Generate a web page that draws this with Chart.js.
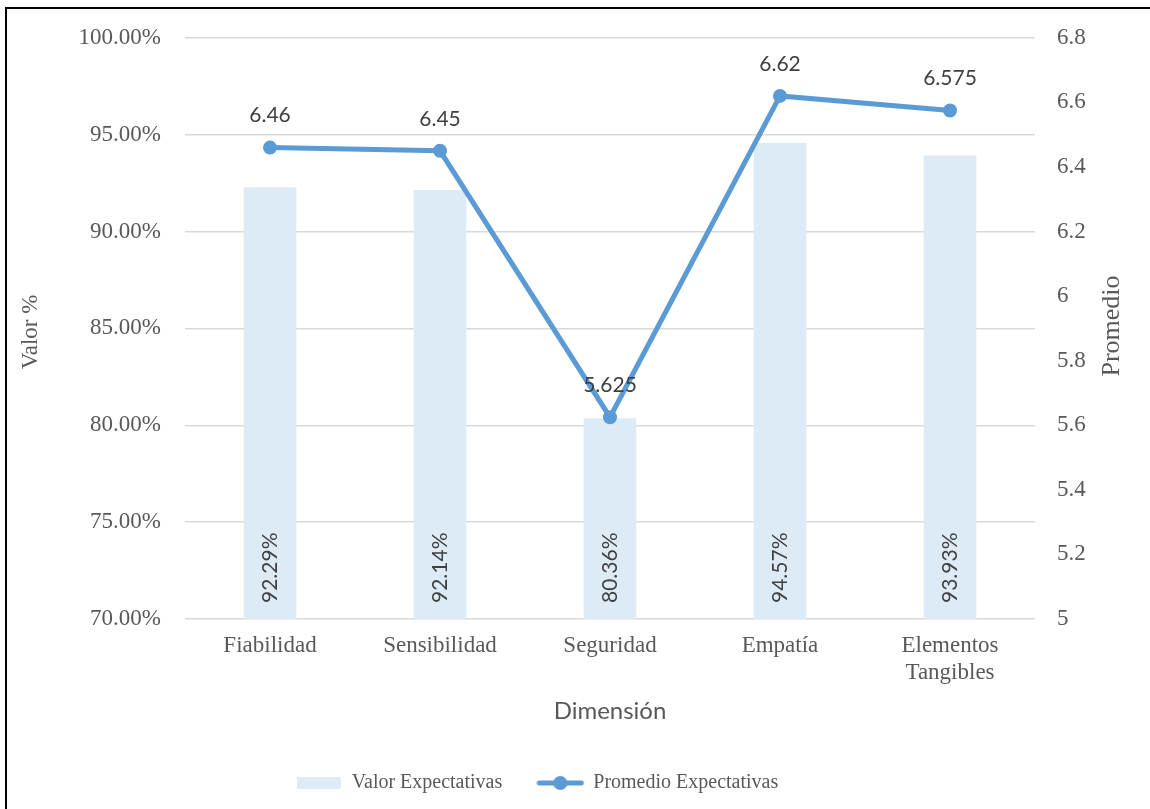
<!DOCTYPE html>
<html>
<head>
<meta charset="utf-8">
<script src="https://cdn.jsdelivr.net/npm/chart.js@4/dist/chart.umd.min.js"></script>
<style>
  html, body { margin: 0; padding: 0; background: #fff; }
  #wrap { position: relative; width: 1150px; height: 809px; }
</style>
</head>
<body>
<div id="wrap"><canvas id="chart" width="1150" height="809"></canvas></div>
<script>
// datos
const dimensiones = ['Fiabilidad', 'Sensibilidad', 'Seguridad', 'Empatía', ['Elementos', 'Tangibles']];
const valorExpectativas = [92.29, 92.14, 80.36, 94.57, 93.93];
const promedioExpectativas = [6.46, 6.45, 5.625, 6.62, 6.575];
const valorEje = [70, 100, 5];      // min, max, paso
const promedioEje = [5, 6.8, 0.2];  // min, max, paso

const azulBarra = '#DDEBF7';
const azulLinea = '#5B9BD5';
const gris = '#595959';
const serif = '"Liberation Serif", "Times New Roman", serif';
const sans = 'Lato, "Open Sans", sans-serif';

// iconos de la leyenda
const iconoBarra = document.createElement('canvas');
iconoBarra.width = 44; iconoBarra.height = 12;
(() => {
    const c = iconoBarra.getContext('2d');
    c.fillStyle = azulBarra;
    c.fillRect(0, 0, 44, 12);
})();

const iconoLinea = document.createElement('canvas');
iconoLinea.width = 48; iconoLinea.height = 16;
(() => {
    const c = iconoLinea.getContext('2d');
    c.strokeStyle = azulLinea;
    c.lineWidth = 5;
    c.lineCap = 'round';
    c.beginPath(); c.moveTo(3, 8); c.lineTo(45, 8); c.stroke();
    c.fillStyle = azulLinea;
    c.beginPath(); c.arc(24, 8, 7, 0, Math.PI * 2); c.fill();
})();

const etiquetas = {
    id: 'etiquetas',
    afterLayout(chart) {
        // la leyenda va centrada algo a la izquierda del centro del lienzo
        const lg = chart.legend;
        lg.right = 1064;
        lg.width = lg.right - lg.left;
    },
    afterDatasetsDraw(chart) {
        const ctx = chart.ctx;
        const area = chart.chartArea;
        ctx.save();
        ctx.fillStyle = '#404040';
        ctx.font = '21px ' + sans;

        chart.getDatasetMeta(1).data.forEach((bar, i) => {
            ctx.save();
            ctx.translate(bar.x, area.bottom - 16);
            ctx.rotate(-Math.PI / 2);
            ctx.textAlign = 'left';
            ctx.textBaseline = 'middle';
            ctx.fillText(valorExpectativas[i].toFixed(2) + '%', 0, 0);
            ctx.restore();
        });

        chart.getDatasetMeta(0).data.forEach((pt, i) => {
            ctx.textAlign = 'center';
            ctx.textBaseline = 'middle';
            ctx.fillText(String(promedioExpectativas[i]), pt.x, pt.y - 32);
        });
        ctx.restore();
    },
    afterDraw(chart) {
        const ctx = chart.ctx;
        ctx.save();
        ctx.fillStyle = gris;
        ctx.textAlign = 'center';
        ctx.textBaseline = 'middle';

        ctx.font = '23px ' + serif;
        ctx.save();
        ctx.translate(31, 332);
        ctx.rotate(-Math.PI / 2);
        ctx.fillText('Valor %', 0, 0);
        ctx.restore();

        ctx.font = '26px ' + serif;
        ctx.save();
        ctx.translate(1112, 326);
        ctx.rotate(-Math.PI / 2);
        ctx.fillText('Promedio', 0, 0);
        ctx.restore();

        ctx.font = '24px ' + sans;
        ctx.fillText('Dimensión', 610, 711);

        // marco
        ctx.fillStyle = '#000';
        ctx.fillRect(5, 7, 2, 802);
        ctx.fillRect(5, 7, 1145, 2);
        ctx.restore();
    }
};

const chart = new Chart(document.getElementById('chart').getContext('2d'), {
    type: 'bar',
    data: {
        labels: dimensiones,
        datasets: [{
            type: 'line',
            label: 'Promedio Expectativas',
            data: promedioExpectativas,
            yAxisID: 'y1',
            borderColor: azulLinea,
            backgroundColor: azulLinea,
            borderWidth: 5,
            pointRadius: 7,
            pointBackgroundColor: azulLinea,
            pointBorderWidth: 0,
            tension: 0,
            order: 0
        }, {
            type: 'bar',
            label: 'Valor Expectativas',
            data: valorExpectativas,
            yAxisID: 'y',
            backgroundColor: azulBarra,
            barPercentage: 0.31,
            categoryPercentage: 1,
            order: 1
        }]
    },
    options: {
        responsive: false,
        animation: false,
        layout: {
            padding: { left: 10, right: 0, top: 37, bottom: 6 }
        },
        plugins: {
            tooltip: { enabled: false },
            legend: {
                position: 'bottom',
                labels: {
                    usePointStyle: true,
                    pointStyleWidth: 46,
                    padding: 35,
                    color: gris,
                    font: { family: serif, size: 20 },
                    generateLabels: () => [
                        { text: 'Valor Expectativas', pointStyle: iconoBarra, fillStyle: azulBarra, strokeStyle: azulBarra, lineWidth: 0, fontColor: gris, datasetIndex: 1 },
                        { text: 'Promedio Expectativas', pointStyle: iconoLinea, fillStyle: azulLinea, strokeStyle: azulLinea, lineWidth: 0, fontColor: gris, datasetIndex: 0 }
                    ]
                }
            }
        },
        scales: {
            x: {
                grid: { display: false },
                border: { display: false },
                ticks: {
                    color: gris,
                    padding: 5,
                    font: { family: serif, size: 23, lineHeight: 1.2 }
                },
                afterFit: (s) => { s.height = 119; }
            },
            y: {
                position: 'left',
                min: valorEje[0],
                max: valorEje[1],
                grid: { color: '#D9D9D9', lineWidth: 1.5, drawTicks: false },
                border: { display: false },
                ticks: {
                    stepSize: valorEje[2],
                    padding: 24,
                    color: gris,
                    font: { family: serif, size: 23 },
                    callback: (v) => v.toFixed(2) + '%'
                },
                afterFit: (s) => { s.width = 175; }
            },
            y1: {
                position: 'right',
                min: promedioEje[0],
                max: promedioEje[1],
                grid: { display: false, drawTicks: false },
                border: { display: false },
                ticks: {
                    stepSize: promedioEje[2],
                    padding: 22,
                    color: gris,
                    font: { family: serif, size: 23 },
                    callback: (v) => String(Number(v.toFixed(1)))
                },
                afterFit: (s) => { s.width = 115; }
            }
        }
    },
    plugins: [etiquetas]
});
</script>
</body>
</html>
